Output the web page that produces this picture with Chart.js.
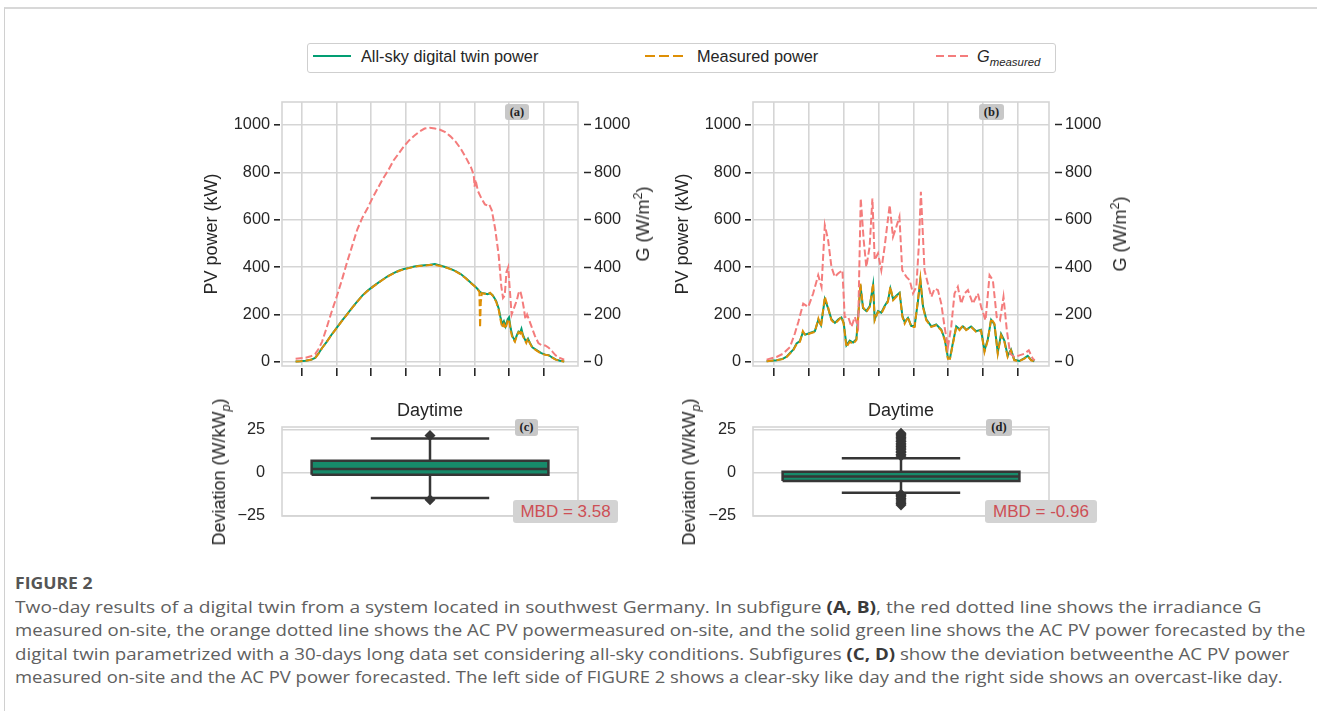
<!DOCTYPE html>
<html>
<head>
<meta charset="utf-8">
<script src="https://cdn.jsdelivr.net/npm/chart.js@4.4.1/dist/chart.umd.min.js"></script>
<style>
  body { margin: 0; background: #fff; font-family: "Liberation Sans", Arial, sans-serif; }
  #page { position: relative; width: 1317px; height: 711px; overflow: hidden; }
  #frame { position: absolute; left: 4px; top: 7px; width: 1320px; height: 720px;
           border-top: 2px solid #d8d8d8; border-left: 1.5px solid #d0d0d0; }
  canvas { position: absolute; }
  .tag { position: absolute; background: #c8c8c8; border-radius: 3px; color: #222;
         font: bold 12.5px "Liberation Serif", "DejaVu Serif", serif; text-align: center; }
  .mbd { position: absolute; background: #d3d3d3; border-radius: 3px; color: #cd4f55;
         font-size: 17px; line-height: 23px; text-align: center; white-space: nowrap; }
  .rot { position: absolute; white-space: nowrap; font-size: 18px; color: #262626; line-height: 22px;
         transform: translate(-50%, -50%) rotate(-90deg); }
  .rot sub, .rot sup, .lt sub { font-size: 70%; line-height: 0; }
  #legend { position: absolute; left: 307px; top: 43px; width: 747px; height: 28px;
            border: 1px solid #cfcfcf; border-radius: 3px; }
  .sw { position: absolute; top: 49px; height: 14px; }
  .lt { position: absolute; top: 46px; font-size: 16.3px; line-height: 20px; color: #262626; white-space: nowrap; }
  .cap { position: absolute; left: 15px; white-space: nowrap; font: 16px/20px "Open Sans", sans-serif;
         color: #606060; transform-origin: 0 50%; }
  .cap b { color: #3a3a3a; }
</style>
</head>
<body>
<div id="page">
  <div id="frame"></div>

  <div id="legend"></div>
  <svg class="sw" style="left:313px" width="38" height="14"><line x1="0" y1="7" x2="38" y2="7" stroke="#029e73" stroke-width="2"/></svg>
  <span class="lt" style="left:361px">All-sky digital twin power</span>
  <svg class="sw" style="left:645px" width="40" height="14"><line x1="0" y1="7" x2="40" y2="7" stroke="#de8f05" stroke-width="2" stroke-dasharray="10 4"/></svg>
  <span class="lt" style="left:697px">Measured power</span>
  <svg class="sw" style="left:936px" width="32" height="14"><line x1="0" y1="7" x2="32" y2="7" stroke="#f47c7c" stroke-width="2" stroke-dasharray="8 4"/></svg>
  <span class="lt" style="left:977px"><i>G</i><sub><i>measured</i></sub></span>

  <canvas id="chartA" width="470" height="299" style="left:190px;top:86px"></canvas>
  <canvas id="chartB" width="470" height="299" style="left:661px;top:86px"></canvas>
  <canvas id="chartC" width="470" height="135" style="left:190px;top:395px"></canvas>
  <canvas id="chartD" width="470" height="135" style="left:661px;top:395px"></canvas>

  <div class="rot" style="left:643px;top:224px">G (W/m<sup>2</sup>)</div>
  <div class="rot" style="left:1120px;top:234px">G (W/m<sup>2</sup>)</div>
  <div class="rot" style="left:219px;top:472px">Deviation (W/kW<sub><i>p</i></sub>)</div>
  <div class="rot" style="left:689px;top:472px">Deviation (W/kW<sub><i>p</i></sub>)</div>

  <div class="tag" style="left:505px;top:104px;width:24px;height:16px;line-height:16px">(a)</div>
  <div class="tag" style="left:979px;top:104px;width:25px;height:16px;line-height:16px">(b)</div>
  <div class="tag" style="left:515px;top:419px;width:23px;height:17px;line-height:17px">(c)</div>
  <div class="tag" style="left:986px;top:419px;width:26px;height:17px;line-height:17px">(d)</div>

  <div class="mbd" style="left:513px;top:500px;width:105px;height:23px">MBD = 3.58</div>
  <div class="mbd" style="left:985px;top:500px;width:112px;height:23px">MBD = -0.96</div>

  <div class="cap" style="top:573px;font-weight:bold;color:#555" data-w="78">FIGURE 2</div>
  <div class="cap" style="top:597px" data-w="1247">Two-day results of a digital twin from a system located in southwest Germany. In subfigure <b>(A, B)</b>, the red dotted line shows the irradiance G</div>
  <div class="cap" style="top:620px" data-w="1290">measured on-site, the orange dotted line shows the AC PV powermeasured on-site, and the solid green line shows the AC PV power forecasted by the</div>
  <div class="cap" style="top:644px" data-w="1275">digital twin parametrized with a 30-days long data set considering all-sky conditions. Subfigures <b>(C, D)</b> show the deviation betweenthe AC PV power</div>
  <div class="cap" style="top:667px" data-w="1268">measured on-site and the AC PV power forecasted. The left side of FIGURE 2 shows a clear-sky like day and the right side shows an overcast-like day.</div>
</div>

<script>
// ---- data (hours of day, kW, W/m2) ----
const hourTicks = [6, 8, 10, 12, 14, 16, 18, 20];
const powerTicks = [0, 200, 400, 600, 800, 1000];
const deviationTicks = [-25, 0, 25];

// (a) clear-sky like day
const timeA = [5.62,5.9,6.2,6.5,6.75,6.95,7.15,7.4,7.7,8.0,8.3,8.6,8.9,9.2,9.5,9.8,10.1,10.4,10.7,11.0,11.3,11.6,11.9,12.2,12.5,12.8,13.1,13.4,13.7,14.0,14.3,14.6,14.9,15.2,15.5,15.8,16.0,16.2,16.28,16.32,16.36,16.42,16.6,16.75,16.9,17.05,17.25,17.4,17.5,17.6,17.7,17.8,17.92,18.0,18.1,18.2,18.34,18.45,18.55,18.65,18.72,18.8,18.9,19.0,19.1,19.2,19.35,19.6,19.87,20.1,20.3,20.5,20.7,20.95,21.2];
const twinA = [2,3,5,9,17,36,59,83,115,144,173,201,229,256,281,301,318,334,349,363,375,385,392,397,403,406,408,410,413,407,401,393,383,371,353,333,321,306,298,296,294,291,289,286,290,282,258,226,190,160,172,150,180,188,140,108,90,112,128,125,140,115,98,85,98,82,62,50,37,31,29,19,11,5,2];
const measuredA = [2,3,5,9,16,35,58,82,114,143,172,200,228,255,280,300,317,333,348,362,374,384,391,396,402,405,407,409,410,405,400,392,382,370,352,332,320,304,295,145,250,290,288,285,292,280,255,220,180,145,160,140,175,180,130,100,85,110,125,120,135,110,95,80,100,80,60,48,35,30,28,18,10,5,2];
const timeGA = [5.62,5.9,6.2,6.5,6.75,6.95,7.15,7.4,7.7,8.0,8.3,8.6,8.9,9.2,9.5,9.8,10.1,10.4,10.7,11.0,11.3,11.6,11.9,12.2,12.5,12.8,13.1,13.4,13.7,14.0,14.3,14.6,14.9,15.2,15.5,15.8,15.95,16.0,16.05,16.2,16.4,16.6,16.75,16.85,17.0,17.2,17.4,17.55,17.65,17.75,17.85,17.95,18.05,18.15,18.25,18.35,18.45,18.55,18.65,18.75,18.85,18.95,19.05,19.15,19.3,19.5,19.7,19.9,20.1,20.3,20.5,20.7,20.9,21.2];
const gA = [14,16,18,24,33,55,85,140,210,275,345,420,490,560,610,650,695,735,775,810,850,880,910,935,955,972,985,988,985,980,970,952,930,900,862,820,790,740,770,720,690,665,660,665,640,560,450,320,270,280,380,400,300,200,220,240,260,290,300,270,230,180,200,180,150,110,80,70,70,60,45,28,18,10];

// (b) overcast-like day
const timeB = [5.58,6.15,6.5,6.73,6.95,7.11,7.3,7.49,7.66,7.8,8.06,8.35,8.55,8.7,8.92,9.1,9.3,9.5,9.7,9.87,10.0,10.16,10.35,10.54,10.73,10.85,10.96,11.11,11.3,11.5,11.69,11.78,11.97,12.16,12.35,12.54,12.68,12.84,13.02,13.21,13.37,13.5,13.69,13.88,14.07,14.26,14.4,14.55,14.74,15.03,15.31,15.6,15.8,15.98,16.1,16.27,16.46,16.65,16.84,17.03,17.31,17.6,17.88,18.08,18.27,18.46,18.65,18.84,19.03,19.22,19.41,19.6,19.79,20.08,20.37,20.56,20.75,20.94];
const twinB = [3,7,13,22,40,52,78,88,125,115,122,130,178,155,265,228,180,165,180,188,165,70,90,82,96,210,325,228,215,236,325,180,215,208,236,258,310,265,280,292,195,168,186,152,152,255,345,236,180,150,158,137,96,18,16,82,150,138,150,136,150,130,136,48,96,178,158,40,118,90,26,52,9,4,16,26,9,3];
const measuredB = [3,7,12,21,38,50,75,85,130,112,120,127,183,150,275,232,176,162,176,190,162,63,85,77,92,200,331,232,211,232,331,176,211,204,232,254,317,261,275,289,190,162,190,148,148,261,352,232,176,148,155,134,92,14,14,77,148,134,155,134,148,127,134,42,92,183,162,35,113,85,21,49,7,3,14,24,7,3];
const timeGB = [5.58,6.15,6.53,6.92,7.2,7.4,7.68,7.97,8.25,8.54,8.73,8.92,9.11,9.3,9.49,9.68,9.93,10.06,10.26,10.45,10.64,10.83,10.98,11.15,11.3,11.49,11.65,11.78,11.97,12.16,12.35,12.64,12.83,13.02,13.2,13.36,13.6,13.79,13.98,14.17,14.32,14.43,14.64,14.83,15.03,15.22,15.41,15.6,15.79,15.98,16.17,16.36,16.55,16.74,16.94,17.13,17.41,17.7,17.89,18.14,18.37,18.56,18.78,18.97,19.17,19.36,19.55,19.8,20.08,20.37,20.62,20.85,20.96];
const gB = [10,21,35,63,120,169,246,232,289,366,317,577,514,401,359,373,387,190,190,148,190,148,690,514,401,486,690,430,458,387,486,662,528,570,613,387,359,345,289,317,500,718,387,331,275,310,303,246,148,63,148,289,317,246,289,303,246,289,232,176,366,345,190,176,275,134,35,21,28,35,49,14,7];

// deviation box plots: [lower whisker, q1, median, q3, upper whisker]
const boxC = [-14.8, -1.3, 2.0, 6.8, 19.7];
const fliersC = [21.4, -15.8];
const boxD = [-11.8, -5.0, -2.3, 0.4, 8.3];
const fliersD = [9.6, 10.4, 11.6, 12.3, 13.5, 14.2, 15.1, 16.0, 16.6, 17.8, 18.3, 19.5, 20.2, 21.1, 21.9, 22.8,
                 -12.6, -13.4, -14.1, -15.2, -16.0, -17.1, -18.0, -18.9];

// ---- styling ----
const ink = '#262626';
const gridColor = '#d5d5d5';
const green = '#029e73';
const orange = '#de8f05';
const red = '#f47c7c';
const boxFill = '#178a6a';
const boxEdge = '#363636';

Chart.defaults.font.family = '"Liberation Sans", Arial, sans-serif';
Chart.defaults.font.size = 16.3;
Chart.defaults.color = ink;

const framePlugin = {
  id: 'frame',
  beforeDatasetsDraw(chart) {
    const { ctx, chartArea: a } = chart;
    ctx.save();
    ctx.strokeStyle = gridColor;
    ctx.lineWidth = 1.6;
    ctx.strokeRect(a.left, a.top, a.right - a.left, a.bottom - a.top);
    ctx.restore();
  }
};

const pts = (xs, ys) => xs.map((x, i) => ({ x: x, y: ys[i] }));
const plain = v => (v < 0 ? '\u2212' + Math.abs(v) : '' + v);
const titleFont = { size: 18 };

function powerChart(id, t, twin, meas, tg, g, xMin, xMax) {
  const line = { pointRadius: 0, borderWidth: 2, tension: 0, fill: false };
  new Chart(document.getElementById(id), {
    type: 'line',
    data: {
      datasets: [
        { ...line, data: pts(tg, g), borderColor: red, borderDash: [7, 3], yAxisID: 'y2' },
        { ...line, data: pts(t, meas), borderColor: orange, borderDash: [7, 3], yAxisID: 'y' },
        { ...line, data: pts(t, twin), borderColor: green, yAxisID: 'y' }
      ]
    },
    options: {
      responsive: false,
      animation: false,
      layout: { padding: { top: 16, left: 0, right: 0, bottom: 0 } },
      plugins: { legend: { display: false }, tooltip: { enabled: false } },
      scales: {
        x: {
          type: 'linear', min: xMin, max: xMax,
          afterBuildTicks: s => { s.ticks = hourTicks.map(v => ({ value: v })); },
          ticks: { callback: () => '' },
          grid: { color: gridColor, lineWidth: 1.6, tickLength: 10, tickColor: ink, tickWidth: 1.6,
                  tickBorderDash: [0, 2, 8, 40] },
          border: { display: false },
          afterFit: s => { s.height = 19; }
        },
        y: {
          position: 'left', min: -17, max: 1097,
          afterBuildTicks: s => { s.ticks = powerTicks.map(v => ({ value: v })); },
          ticks: { padding: 4, color: ink, callback: plain },
          grid: { color: gridColor, lineWidth: 1.6, tickLength: 8, tickColor: ink, tickWidth: 1.6,
                  tickBorderDash: [6, 40] },
          border: { display: false },
          title: { display: true, text: 'PV power (kW)', color: ink, font: titleFont, padding: { top: 11.2, bottom: 0 } },
          afterFit: s => { s.width = 92; }
        },
        y2: {
          position: 'right', min: -17, max: 1097,
          afterBuildTicks: s => { s.ticks = powerTicks.map(v => ({ value: v })); },
          ticks: { padding: 3, color: ink, callback: plain },
          grid: { drawOnChartArea: false, tickLength: 13, tickColor: ink, tickWidth: 1.6,
                  tickBorderDash: [0, 6, 7, 40] },
          border: { display: false },
          afterFit: s => { s.width = 82; }
        }
      }
    },
    plugins: [framePlugin]
  });
}

function boxChart(id, stats, fliers) {
  const [lo, q1, med, q3, hi] = stats;
  const half = 0.4, cap = 0.2;
  const seg = { pointRadius: 0, borderColor: boxEdge, borderWidth: 2.5, fill: false, tension: 0 };
  new Chart(document.getElementById(id), {
    type: 'line',
    data: {
      datasets: [
        { ...seg, borderWidth: 0, data: [{ x: -half, y: q1 }, { x: half, y: q1 }] },
        { ...seg, borderWidth: 0, data: [{ x: -half, y: q3 }, { x: half, y: q3 }], fill: '-1', backgroundColor: boxFill },
        { ...seg, data: [{ x: -half, y: q1 }, { x: half, y: q1 }, { x: half, y: q3 }, { x: -half, y: q3 }, { x: -half, y: q1 }] },
        { ...seg, data: [{ x: -half, y: med }, { x: half, y: med }] },
        { ...seg, data: [{ x: 0, y: q3 }, { x: 0, y: hi }] },
        { ...seg, data: [{ x: 0, y: q1 }, { x: 0, y: lo }] },
        { ...seg, data: [{ x: -cap, y: hi }, { x: cap, y: hi }] },
        { ...seg, data: [{ x: -cap, y: lo }, { x: cap, y: lo }] },
        { data: fliers.map(v => ({ x: 0, y: v })), showLine: false, pointStyle: 'rectRot',
          pointRadius: 5.5, backgroundColor: boxEdge, borderColor: boxEdge, borderWidth: 0 }
      ]
    },
    options: {
      responsive: false,
      animation: false,
      layout: { padding: { top: 2, left: 0, right: 82, bottom: 14 } },
      plugins: { legend: { display: false }, tooltip: { enabled: false }, filler: { drawTime: 'beforeDatasetsDraw' } },
      scales: {
        x: {
          type: 'linear', position: 'top', min: -0.5, max: 0.5,
          ticks: { display: false },
          grid: { display: false },
          border: { display: false },
          title: { display: true, text: 'Daytime', color: ink, font: titleFont, padding: { top: 3, bottom: 0 } },
          afterFit: s => { s.height = 30; }
        },
        y: {
          min: -25.3, max: 26.4,
          afterBuildTicks: s => { s.ticks = deviationTicks.map(v => ({ value: v })); },
          ticks: { padding: 4, color: ink, callback: plain },
          grid: { color: gridColor, lineWidth: 1.6, tickLength: 13, tickColor: 'rgba(0,0,0,0)' },
          border: { display: false },
          afterFit: s => { s.width = 92; }
        }
      }
    },
    plugins: [framePlugin]
  });
}

powerChart('chartA', timeA, twinA, measuredA, timeGA, gA, 4.83, 22.0);
powerChart('chartB', timeB, twinB, measuredB, timeGB, gB, 4.8, 21.78);
boxChart('chartC', boxC, fliersC);
boxChart('chartD', boxD, fliersD);

// squeeze caption lines to the width of the original (condensed) typeface
document.querySelectorAll('.cap').forEach(el => {
  const k = (+el.dataset.w) / el.offsetWidth;
  el.style.transform = 'scaleX(' + k + ')';
});
</script>
</body>
</html>
